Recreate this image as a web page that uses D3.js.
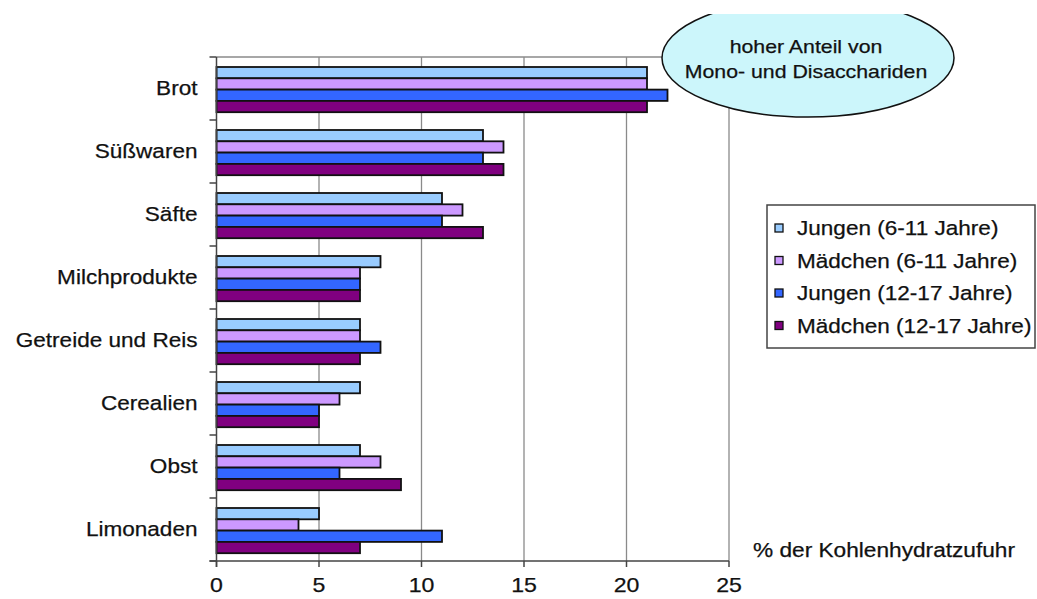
<!DOCTYPE html>
<html><head><meta charset="utf-8">
<script src="https://cdn.jsdelivr.net/npm/d3@7"></script>
<style>
html,body{margin:0;padding:0;background:#fff;}
svg{display:block;}
text{font-family:"Liberation Sans",Arial,sans-serif;fill:#111;stroke:#111;stroke-width:0.25;}
</style></head>
<body>
<svg id="chart" width="1037" height="599"></svg>
<script>
const categories = ["Brot","Süßwaren","Säfte","Milchprodukte","Getreide und Reis","Cerealien","Obst","Limonaden"];
const seriesNames = ["Jungen (6-11 Jahre)","Mädchen (6-11 Jahre)","Jungen (12-17 Jahre)","Mädchen (12-17 Jahre)"];
const jungen611 = [21,13,11,8,7,7,7,5];
const maedchen611 = [21,14,12,7,7,6,8,4];
const jungen1217 = [22,13,11,7,8,5,6,11];
const maedchen1217 = [21,14,13,7,7,5,9,7];
const xTicks = [0,5,10,15,20,25];
const colors = ["#99ccff","#cc99ff","#3366ff","#800080"];
const series = [jungen611, maedchen611, jungen1217, maedchen1217];

const svg = d3.select("#chart");
const pLeft = 216.5, pRight = 729, pTop = 57, pBottom = 561;
const x = d3.scaleLinear().domain([0,25]).range([pLeft,pRight]);
const y = d3.scaleBand().domain(categories).range([pTop,pBottom]);
const STRETCH = 1.1;
function stretch(sel, factor){
  sel.each(function(){
    const len = this.getComputedTextLength();
    d3.select(this).attr("textLength", len*(factor||STRETCH)).attr("lengthAdjust","spacingAndGlyphs");
  });
}

// grid lines
svg.append("g").selectAll("line").data(xTicks.filter(d=>d>0)).join("line")
  .attr("x1",d=>x(d)).attr("x2",d=>x(d)).attr("y1",pTop).attr("y2",pBottom)
  .attr("stroke","#8a8a8a").attr("stroke-width",1.3);
svg.append("line").attr("x1",pLeft).attr("x2",pRight).attr("y1",pTop).attr("y2",pTop)
  .attr("stroke","#8a8a8a").attr("stroke-width",1.3);

// bars
const barH = 11.3, barOff = 10;
series.forEach((vals,si)=>{
  svg.append("g").selectAll("rect").data(vals).join("rect")
    .attr("x",x(0))
    .attr("y",(d,i)=>y(categories[i]) + barOff + si*barH)
    .attr("width",d=>x(d)-x(0))
    .attr("height",barH)
    .attr("fill",colors[si])
    .attr("stroke","#111").attr("stroke-width",1.8);
});

// y axis
const yAxisG = svg.append("g");
yAxisG.append("line").attr("x1",pLeft).attr("x2",pLeft).attr("y1",pTop).attr("y2",pBottom+6)
  .attr("stroke","#444").attr("stroke-width",1.5);
const boundaries = categories.map(c=>y(c)).concat([pBottom]);
yAxisG.selectAll("line.tk").data(boundaries).join("line").attr("class","tk")
  .attr("x1",pLeft-7).attr("x2",pLeft).attr("y1",d=>d).attr("y2",d=>d)
  .attr("stroke","#444").attr("stroke-width",1.5);
const catLabels = yAxisG.selectAll("text").data(categories).join("text")
  .attr("x",pLeft-19).attr("y",d=>y(d)+y.bandwidth()/2+6)
  .attr("text-anchor","end").attr("font-size",20.5).text(d=>d);
stretch(catLabels);

// x axis
const xAxisG = svg.append("g");
xAxisG.append("line").attr("x1",pLeft-7).attr("x2",pRight).attr("y1",pBottom).attr("y2",pBottom)
  .attr("stroke","#444").attr("stroke-width",1.5);
xAxisG.selectAll("line.tk").data(xTicks).join("line").attr("class","tk")
  .attr("x1",d=>x(d)).attr("x2",d=>x(d)).attr("y1",pBottom).attr("y2",pBottom+6)
  .attr("stroke","#444").attr("stroke-width",1.5);
const tickLabels = xAxisG.selectAll("text").data(xTicks).join("text")
  .attr("x",d=>x(d)).attr("y",592).attr("text-anchor","middle").attr("font-size",21).text(d=>d);
stretch(tickLabels);

// axis title
const axTitle = svg.append("text").attr("x",753).attr("y",557).attr("font-size",19.5)
  .text("% der Kohlenhydratzufuhr");
axTitle.attr("textLength",262).attr("lengthAdjust","spacingAndGlyphs");

// legend
const lg = svg.append("g");
lg.append("rect").attr("x",767).attr("y",205).attr("width",268).attr("height",143)
  .attr("fill","#fff").attr("stroke","#444").attr("stroke-width",1.5);
seriesNames.forEach((name,i)=>{
  const cy = 228 + i*32.5;
  lg.append("rect").attr("x",775).attr("y",cy-4).attr("width",8).attr("height",8)
    .attr("fill",colors[i]).attr("stroke","#111").attr("stroke-width",1.3);
  const t = lg.append("text").attr("x",797).attr("y",cy+7).attr("font-size",20.5).text(name);
  stretch(t);
});

// annotation ellipse
svg.append("clipPath").attr("id","clipTop").append("rect")
  .attr("x",0).attr("y",14).attr("width",1037).attr("height",585);
svg.append("ellipse").attr("clip-path","url(#clipTop)")
  .attr("cx",808).attr("cy",58).attr("rx",146).attr("ry",59)
  .attr("fill","#ccf6fb").attr("stroke","#111").attr("stroke-width",1.5);
const ann = ["hoher Anteil von","Mono- und Disacchariden"];
ann.forEach((s,i)=>{
  const t = svg.append("text").attr("x",806).attr("y",53+i*24.5).attr("text-anchor","middle")
    .attr("font-size",19).text(s);
  stretch(t, 1.12);
});
</script>
</body></html>
